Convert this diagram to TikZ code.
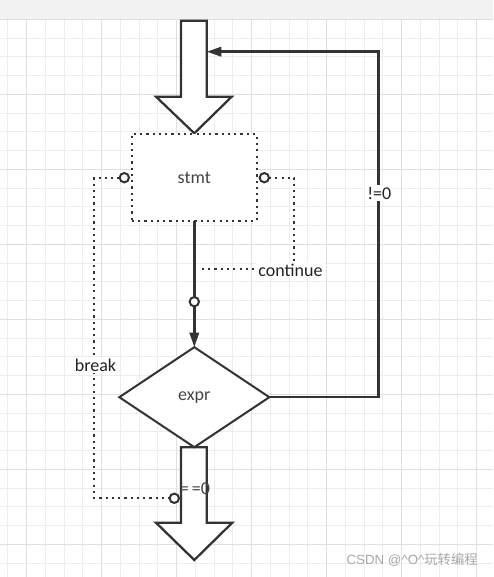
\documentclass[tikz,border=0pt]{standalone}
\usepackage{fontspec}
\setmainfont{Carlito}
\newfontfamily\cjkfont{Noto Sans CJK SC}
\newfontfamily\wmfont{Liberation Sans}
\usetikzlibrary{shapes.geometric,arrows.meta}
\definecolor{ink}{HTML}{333333}
\definecolor{txt}{HTML}{222222}
\definecolor{soft}{HTML}{444444}
\definecolor{gridminor}{HTML}{EDEDED}
\definecolor{gridmajor}{HTML}{E0E0E0}
\definecolor{band}{HTML}{F2F2F2}
\definecolor{wmgray}{HTML}{A8A8A8}
\tikzset{
  bigarrow/.style={draw=ink, line width=1.7pt, fill=white, line join=miter},
  conn/.style={draw=ink, line width=1.9pt},
  dotline/.style={draw=ink, line width=1.65pt, dash pattern=on 1.65pt off 3.05pt},
  stmtbox/.style={rectangle, draw=ink, fill=white, line width=1.65pt, dash pattern=on 1.65pt off 3.05pt,
    minimum width=93.75pt, minimum height=64.8pt, inner sep=0pt, outer sep=0pt, text=soft},
  exprbox/.style={diamond, draw=ink, fill=white, line width=1.5pt, minimum width=112.5pt,
    minimum height=75pt, aspect=1.5, inner sep=0pt, outer sep=0pt, text=soft},
  port/.style={circle, draw=ink, fill=white, line width=1.5pt, minimum size=7pt, inner sep=0pt, outer sep=0pt},
  lbl/.style={fill=white, inner sep=1.5pt, text=txt},
  tip/.style={-{Triangle[length=11pt,width=7pt]}},
}
\begin{document}
\begin{tikzpicture}[x=0.75pt,y=-0.75pt, font=\fontsize{13.5}{16}\selectfont]
\useasboundingbox (0,0) rectangle (493,577);
\fill[white] (0,0) rectangle (493,577);
% grid
\foreach \k in {0,...,26} {
  \draw[gridminor, line width=0.75pt] ({7.95+18.75*\k},19.3) -- ({7.95+18.75*\k},577);
}
\foreach \k in {0,...,30} {
  \draw[gridminor, line width=0.75pt] (0,{19.3+18.75*\k}) -- (493,{19.3+18.75*\k});
}
\foreach \k in {0,...,6} {
  \draw[gridmajor, line width=0.75pt] ({26.7+75*\k},19.3) -- ({26.7+75*\k},577);
}
\foreach \k in {0,...,7} {
  \draw[gridmajor, line width=0.75pt] (0,{19.3+75*\k}) -- (493,{19.3+75*\k});
}
\fill[band] (0,0) rectangle (493,19.3);

% big arrows
\draw[bigarrow] (181,20.7) -- (206.7,20.7) -- (206.7,96.7) -- (231.7,96.7) -- (194.3,133.3)
  -- (156,96.7) -- (181,96.7) -- cycle;
\coordinate (topin) at (206.7,51.7);
\draw[bigarrow] (181,447.3) -- (206.7,447.3) -- (206.7,522.7) -- (232.3,522.7) -- (194.3,560)
  -- (156,522.7) -- (181,522.7) -- cycle;

% main nodes
\node[stmtbox] (stmt) at (194.3,177.5) {stmt};
\node[exprbox] (expr) at (194.3,397.2) {expr};

% stmt -> expr
\draw[conn, tip] (stmt.south) -- (expr.north);
\node[port] (mport) at (194.3,301.7) {};

% loop back (!=0)
\coordinate (rc) at (378.3,51.7);
\draw[conn, tip] (expr.east) -| (rc) -- (topin);
\node[lbl] (ne) at (379.3,193.3) {!=0};

% continue
\node[port] (rport) at (264.3,177.7) {};
\coordinate (cc) at (294.3,269);
\coordinate (cend) at (198,269);
\draw[dotline] (rport.east) -| (cc) -- (cend);
\node[lbl] (cont) at (290.5,270) {continue};

% break
\node[port] (lport) at (124.3,177.7) {};
\node[port] (bport) at (174.3,498.3) {};
\coordinate (bc) at (94.3,498.3);
\draw[dotline] (lport.west) -| (bc) -- (bport.west);
\node[lbl] (brk) at (95.5,365) {break};

% ==0
\node[text=soft, inner sep=0pt] (eq) at (195,488.5) {=\,=0};

% watermark
\node[text=wmgray, inner sep=0pt, anchor=east, font=\fontsize{10}{12}\selectfont] (wm) at (478,560)
  {\wmfont CSDN @\textasciicircum O\textasciicircum\cjkfont 玩转编程};
\end{tikzpicture}
\end{document}
